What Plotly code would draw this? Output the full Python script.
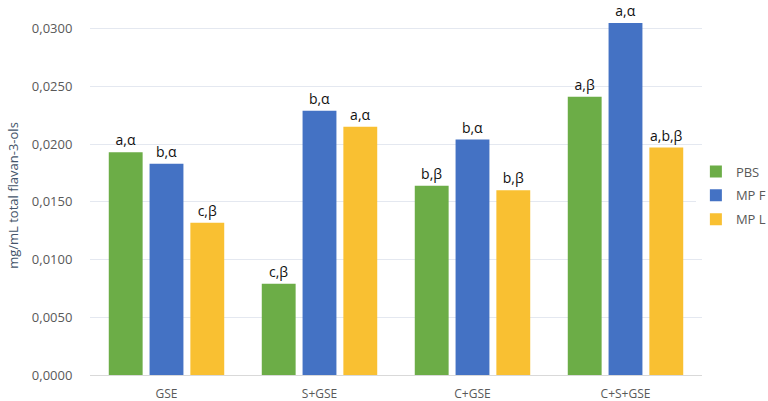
import plotly.graph_objects as go

categories = ["GSE", "S+GSE", "C+GSE", "C+S+GSE"]
series_names = ["PBS", "MP F", "MP L"]
pbs = [0.0193, 0.0079, 0.0164, 0.0241]
mpf = [0.0183, 0.0229, 0.0204, 0.0305]
mpl = [0.0132, 0.0215, 0.0160, 0.0197]
pbs_labels = ["a,α", "c,β", "b,β", "a,β"]
mpf_labels = ["b,α", "b,α", "b,α", "a,α"]
mpl_labels = ["c,β", "a,α", "b,β", "a,b,β"]
tick_vals = [0, 0.005, 0.01, 0.015, 0.02, 0.025, 0.03]

colors = ["#6cad47", "#4472c4", "#f9c032"]
values = [pbs, mpf, mpl]
labels = [pbs_labels, mpf_labels, mpl_labels]

FONT = "Open Sans, Liberation Sans, sans-serif"

fig = go.Figure()
for i, (name, vals, labs, col) in enumerate(zip(series_names, values, labels, colors)):
    fig.add_trace(go.Bar(
        x=categories, y=vals, name=name, text=labs, legendgroup=f"g{i}",
        textposition="outside", cliponaxis=False,
        textfont=dict(family=FONT, size=14, color="#111111"),
        marker=dict(color=col, line=dict(width=0)),
    ))

fig.update_layout(
    width=768, height=401,
    margin=dict(l=90, r=66, t=16, b=26, autoexpand=False),
    paper_bgcolor="white", plot_bgcolor="white",
    barmode="group", bargap=0.2, bargroupgap=0.17,
    separators=", ",
    font=dict(family=FONT, color="#595959"),
    showlegend=True,
    legend=dict(x=0.99, y=0.5, xanchor="left", yanchor="middle",
                font=dict(size=13, color="#595959"), tracegroupgap=4,
                itemwidth=30),
)
fig.update_xaxes(showgrid=False, showline=False, ticks="outside", ticklen=8,
                 tickcolor="rgba(0,0,0,0)", tickfont=dict(size=12, color="#595959"))
fig.update_yaxes(range=[0, 0.0311], tickvals=tick_vals, tickformat=".4f",
                 showgrid=True, gridcolor="#e4e8f0", gridwidth=1,
                 zeroline=True, zerolinecolor="#d9d9d9", zerolinewidth=1,
                 ticks="outside", ticklen=14, tickcolor="rgba(0,0,0,0)",
                 tickfont=dict(size=13, color="#595959"),
                 title=dict(text="mg/mL total flavan-3-ols",
                            font=dict(size=13, color="#44546a"), standoff=10))

fig.write_html("out.html", config={"displayModeBar": False},
               post_script="document.body.style.margin='0';document.body.style.overflow='hidden';")
